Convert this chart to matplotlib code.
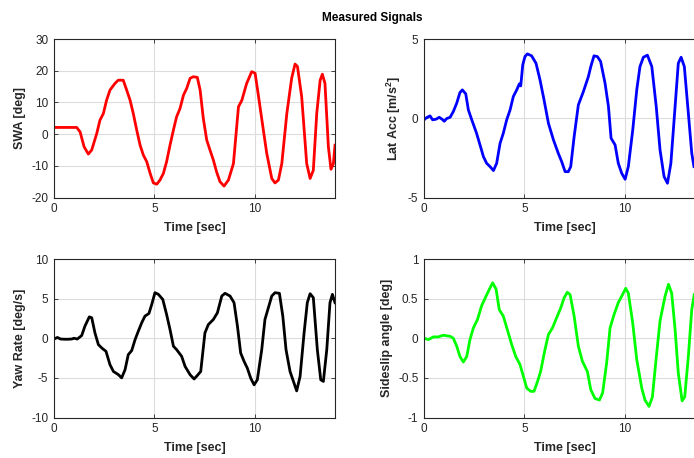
import matplotlib
matplotlib.use("Agg")
import matplotlib.pyplot as plt

plt.rcParams['font.family'] = ['Liberation Sans', 'DejaVu Sans']
plt.rcParams['mathtext.fontset'] = 'custom'
plt.rcParams['mathtext.bf'] = 'Liberation Sans:bold'
plt.rcParams['mathtext.rm'] = 'Liberation Sans'

# ---------------- data ----------------
swa_t = [0, 1.13, 1.3, 1.5, 1.71, 1.88, 2.13, 2.29, 2.46, 2.62, 2.79, 3.04, 3.2, 3.45,
         3.62, 3.79, 3.95, 4.12, 4.29, 4.45, 4.62, 4.79, 4.95, 5.12, 5.28, 5.45, 5.61,
         5.78, 5.95, 6.11, 6.28, 6.45, 6.61, 6.78, 6.94, 7.14, 7.28, 7.44, 7.61, 7.77,
         7.94, 8.1, 8.27, 8.47, 8.69, 8.94, 9.19, 9.36, 9.6, 9.85, 10.02, 10.18, 10.43,
         10.6, 10.85, 11.01, 11.18, 11.35, 11.6, 11.84, 12.01, 12.13, 12.34, 12.59,
         12.76, 12.92, 13.09, 13.26, 13.37, 13.5, 13.67, 13.8, 13.92, 14.0]
swa_v = [2.1, 2.1, 0.7, -4, -6.3, -5, 0.2, 4.4, 6.5, 10.7, 13.9, 16, 17, 17,
         13.9, 10.7, 6.5, 1.3, -3.5, -6.6, -8.7, -12.4, -15.4, -15.8, -14.5, -12.4, -8.7,
         -3.5, 1.3, 5.5, 8.1, 12.3, 14.4, 17.6, 18.1, 17.9, 13.9, 4.9, -1.9, -5,
         -8.2, -11.9, -15, -16.4, -14.5, -9.3, 8.6, 10.7, 16, 19.7, 19.2, 12.3, 1.3,
         -6.1, -14, -15.4, -14.5, -9.3, 6.5, 17.6, 22.1, 21.3, 11.8, -9.3,
         -14, -11.4, 6.5, 17, 18.9, 16, -4, -11.1, -9.3, -3.5]

lat_t = [0, 0.13, 0.3, 0.43, 0.6, 0.76, 0.9, 1.01, 1.13, 1.3, 1.46, 1.63, 1.79, 1.91,
         2.08, 2.21, 2.38, 2.62, 2.79, 2.96, 3.12, 3.29, 3.46, 3.62, 3.79, 3.95, 4.12,
         4.29, 4.45, 4.62, 4.75, 4.82, 4.92, 5.03, 5.15, 5.36, 5.58, 5.78, 5.98, 6.2,
         6.45, 6.69, 6.86, 7.03, 7.19, 7.31, 7.48, 7.69, 7.94, 8.19, 8.31, 8.47, 8.64,
         8.8, 9.02, 9.19, 9.32, 9.52, 9.68, 9.85, 10.02, 10.18, 10.4, 10.6, 10.76,
         10.93, 11.13, 11.35, 11.57, 11.76, 11.96, 12.13, 12.3, 12.51, 12.67, 12.81,
         12.97, 13.17, 13.34, 13.45]
lat_v = [-0.1, 0.04, 0.15, -0.1, -0.06, 0.06, -0.06, -0.19, -0.02, 0.06, 0.42, 0.95, 1.62, 1.79,
         1.54, 0.53, -0.1, -0.95, -1.68, -2.42, -2.84, -3.05, -3.3, -2.84, -1.58, -0.95, -0.1,
         0.53, 1.37, 1.79, 2.17, 2.04, 3.37, 3.89, 4.06, 3.94, 3.47, 2.42, 1.16, -0.32,
         -1.37, -2.21, -2.74, -3.37, -3.37, -3.05, -1.16, 0.84, 1.68, 2.63, 3.26, 3.94, 3.89,
         3.58, 2.21, 0.74, -1.26, -1.68, -2.84, -3.47, -3.85, -3.05, -0.74, 1.79, 3.26,
         3.85, 3.98, 3.26, 0.74, -2.0, -3.68, -4.1, -2.84, 0.74, 3.47, 3.85,
         3.26, 0.32, -2.21, -3.05]

yaw_t = [0, 0.17, 0.33, 0.63, 0.88, 1.0, 1.16, 1.38, 1.54, 1.76, 1.88, 2.04, 2.21, 2.38,
         2.59, 2.79, 2.96, 3.21, 3.37, 3.54, 3.7, 3.87, 4.04, 4.2, 4.37, 4.53, 4.73, 4.87,
         5.03, 5.2, 5.42, 5.61, 5.78, 5.95, 6.11, 6.36, 6.53, 6.78, 6.98, 7.14, 7.31,
         7.52, 7.69, 7.94, 8.14, 8.36, 8.52, 8.77, 8.97, 9.14, 9.3, 9.47, 9.63, 9.8,
         9.97, 10.13, 10.35, 10.51, 10.68, 10.85, 11.01, 11.23, 11.4, 11.56, 11.76,
         11.96, 12.09, 12.26, 12.46, 12.62, 12.76, 12.92, 13.12, 13.29, 13.42, 13.59,
         13.75, 13.87, 14.0]
yaw_v = [-0.1, 0.1, -0.1, -0.13, -0.1, 0, -0.1, 0.34, 1.52, 2.7, 2.58, 0.68, -0.8, -1.23,
         -1.65, -3.34, -4.19, -4.6, -5.0, -3.97, -2.07, -1.56, -0.17, 0.89, 1.95, 2.79, 3.13, 4.27,
         5.75, 5.54, 4.9, 3.0, 1.1, -1.0, -1.44, -2.28, -3.55, -4.6, -5.14, -4.7, -4.19,
         0.68, 1.73, 2.37, 3.21, 5.33, 5.67, 5.33, 4.49, 1.52, -1.86, -2.92, -3.76, -5.03,
         -5.88, -5.24, -1.44, 2.37, 3.85, 5.33, 5.75, 5.67, 2.79, -1.44, -4.19,
         -5.67, -6.64, -4.82, 0.68, 4.49, 5.62, 5.12, -1.44, -5.24, -5.45, -1.44,
         4.49, 5.54, 4.49]

beta_t = [0, 0.22, 0.47, 0.71, 0.96, 1.3, 1.46, 1.63, 1.79, 1.96, 2.13, 2.29, 2.46, 2.67,
          2.87, 3.09, 3.26, 3.42, 3.59, 3.75, 3.95, 4.15, 4.37, 4.57, 4.78, 4.95, 5.12,
          5.32, 5.48, 5.65, 5.81, 6.03, 6.2, 6.4, 6.61, 6.81, 6.98, 7.14, 7.28, 7.48,
          7.69, 7.89, 8.14, 8.31, 8.52, 8.74, 8.9, 9.1, 9.27, 9.47, 9.68, 9.85, 10.05,
          10.18, 10.4, 10.6, 10.85, 11.01, 11.21, 11.38, 11.56, 11.76, 12.01, 12.18,
          12.34, 12.51, 12.67, 12.86, 12.99, 13.17, 13.34, 13.46]
beta_v = [0.0, -0.017, 0.017, 0.017, 0.038, 0.025, 0.0, -0.1, -0.23, -0.3, -0.23, -0.017, 0.13, 0.24,
          0.41, 0.53, 0.62, 0.7, 0.62, 0.36, 0.28, 0.11, -0.08, -0.23, -0.33, -0.48, -0.63,
          -0.67, -0.67, -0.55, -0.42, -0.14, 0.047, 0.13, 0.26, 0.38, 0.51, 0.58, 0.55, 0.28,
          -0.1, -0.29, -0.42, -0.65, -0.76, -0.78, -0.69, -0.31, 0.13, 0.3, 0.45, 0.53, 0.63,
          0.57, 0.19, -0.27, -0.63, -0.78, -0.86, -0.74, -0.27, 0.22, 0.53, 0.68,
          0.57, 0.11, -0.44, -0.79, -0.74, -0.23, 0.36, 0.55]

xticks = [0, 5, 10]
panels = [
    dict(t=swa_t, v=swa_v, color=(1, 0, 0), ylabel='SWA [deg]', ylim=(-20, 30),
         yticks=[-20, -10, 0, 10, 20, 30], pos=(54, 39), ylx=26),
    dict(t=lat_t, v=lat_v, color=(0, 0, 1), ylabel=r'Lat Acc [m/s$^{\mathbf{2}}$]', ylim=(-5, 5),
         yticks=[-5, 0, 5], pos=(424, 39), ylx=403),
    dict(t=yaw_t, v=yaw_v, color=(0, 0, 0), ylabel='Yaw Rate [deg/s]', ylim=(-10, 10),
         yticks=[-10, -5, 0, 5, 10], pos=(54, 259), ylx=26),
    dict(t=beta_t, v=beta_v, color=(0, 1, 0), ylabel='Sideslip angle [deg]', ylim=(-1, 1),
         yticks=[-1, -0.5, 0, 0.5, 1], pos=(424, 259), ylx=393),
]

W, H = 694, 458
fig = plt.figure(figsize=(W / 100, H / 100), dpi=100)
axw, axh = 281, 158.5
dark = '#262626'
for p in panels:
    x0, y0 = p['pos']
    ax = fig.add_axes([x0 / W, 1 - (y0 + axh) / H, axw / W, axh / H])
    ax.plot(p['t'], p['v'], color=p['color'], lw=2.0, solid_joinstyle='round')
    ax.set_xlim(0, 14)
    ax.set_ylim(*p['ylim'])
    ax.set_xticks(xticks)
    ax.set_yticks(p['yticks'])
    ax.set_yticklabels([f'{v:g}' for v in p['yticks']])
    ax.grid(True, color='#dcdcdc', lw=0.8)
    ax.set_axisbelow(True)
    ax.tick_params(direction='in', length=3, width=0.6, colors=dark, labelsize=8.5,
                   top=True, right=True, pad=4)
    for s in ax.spines.values():
        s.set_color(dark)
        s.set_linewidth(0.8)
    ax.set_xlabel('Time [sec]', fontsize=9, fontweight='bold', color=dark)
    ax.xaxis.set_label_coords(0.5, -25 / axh)
    ax.set_ylabel(p['ylabel'], fontsize=9, fontweight='bold', color=dark)
    ax.yaxis.set_label_coords((p['ylx'] - x0) / axw, 0.5)

fig.text(372 / W, 1 - 18 / H, 'Measured Signals', ha='center', va='center',
         fontsize=8.5, fontweight='bold', color='black')

fig.savefig('out.png', dpi=100)
